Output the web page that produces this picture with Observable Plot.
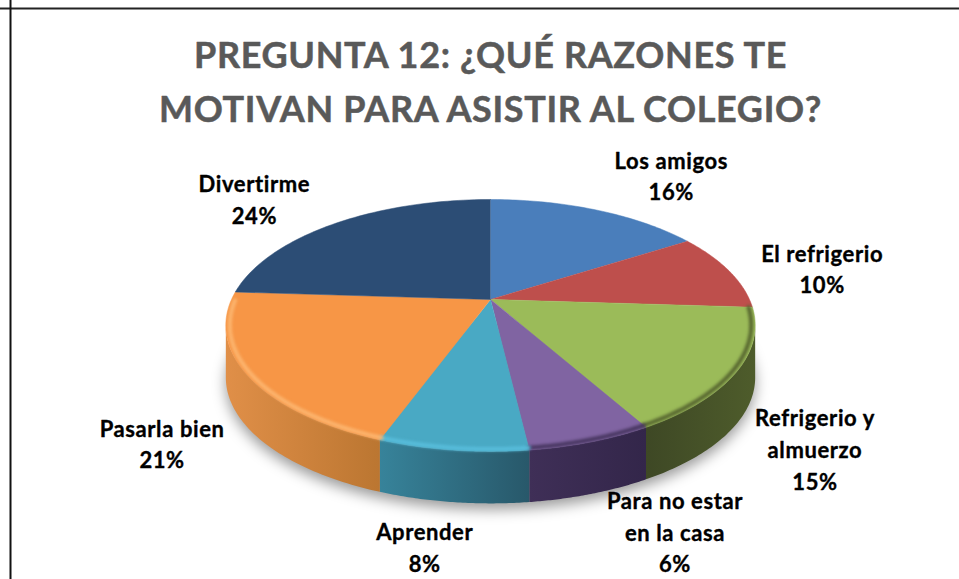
<!DOCTYPE html>
<html>
<head>
<meta charset="utf-8">
<script src="https://cdn.jsdelivr.net/npm/d3@7"></script>
<script src="https://cdn.jsdelivr.net/npm/@observablehq/plot@0.6"></script>
<style>html,body{margin:0;padding:0;background:#fff}svg{display:block}</style>
</head>
<body>
<div id="chart"></div>
<script>
const titleLines = ["PREGUNTA 12: ¿QUÉ RAZONES TE", "MOTIVAN PARA ASISTIR AL COLEGIO?"];
const categories = ["Los amigos", "El refrigerio", "Refrigerio y\nalmuerzo", "Para no estar\nen la casa", "Aprender", "Pasarla bien", "Divertirme"];
const percentLabels = ["16%", "10%", "15%", "6%", "8%", "21%", "24%"];
// slice shares as they measure on the drawn pie
const shares = [16, 10, 15.8, 6.3, 7.5, 20.4, 24];
const faceColors = ["#4a7ebb", "#be4f4c", "#9bbb59", "#8064a2", "#49a9c4", "#f79646", "#2c4d75"];
const rimColors = ["#4a7ebb", "#be4f4c", "#56652f", "#46355f", "#58bddb", "#fcb56f", "#2c4d75"];
const wallStops = [null, null, ["#3e4825", "#4e5c2b"], ["#3f2f57", "#33264a"], ["#37839a", "#28586a"], ["#e08f48", "#bb7631"], null];
const labelOffsets = [[75, -35.5], [93, -3.5], [78, 76.5], [84, 88.5], [-28, 95.5], [-84, 68.5], [-82, -25.5]];

// Pie geometry on the chart's x/y scales: perspective view of a circle
const cx = 490, cy = 299, k = 259, b = 120.6, a = 0.206, depth = 52;
const frontFrom = 102.4, frontTo = 257.6;
const rim = deg => {
  const t = deg * Math.PI / 180, u = Math.sin(t), v = Math.cos(t), w = 1 + a * v;
  return {x: cx + k * u / w, y: cy - b * v / w};
};
const arc = (d0, d1) => d3.range(0, 61).map(i => rim(d0 + (d1 - d0) * i / 60));
const spaced = amount => (index, scales, values, dims, ctx, next) => {
  const g = next(index, scales, values, dims, ctx);
  g.style.letterSpacing = amount;
  return g;
};

const cum = d3.cumsum(shares);
const total = cum[cum.length - 1];
const slices = categories.map((name, i) => ({
  name, i,
  d0: (i ? cum[i - 1] : 0) / total * 360,
  d1: cum[i] / total * 360,
  label: name + "\n" + percentLabels[i]
}));

const defs = () => {
  const d = d3.create("svg:defs");
  slices.forEach(s => {
    if (!wallStops[s.i]) return;
    const g = d.append("linearGradient").attr("id", "wall" + s.i);
    g.append("stop").attr("offset", "0").attr("stop-color", wallStops[s.i][0]);
    g.append("stop").attr("offset", "1").attr("stop-color", wallStops[s.i][1]);
  });
  return d.node();
};

const marks = [defs];

// soft ground shadow
marks.push(Plot.line(arc(frontFrom - 30, frontTo + 30).map(p => ({x: p.x, y: p.y + depth + 6})), {
  x: "x", y: "y", fill: "#000", fillOpacity: 0.4, stroke: "none", imageFilter: "blur(7px)"
}));

// walls
slices.forEach(s => {
  const d0 = Math.max(s.d0, frontFrom), d1 = Math.min(s.d1, frontTo);
  if (d1 <= d0 || !wallStops[s.i]) return;
  const top = arc(d0, d1);
  const bottom = top.map(p => ({x: p.x, y: p.y + depth})).reverse();
  marks.push(Plot.line([...top, ...bottom], {x: "x", y: "y", fill: `url(#wall${s.i})`, stroke: "none"}));
});

// top faces
slices.forEach(s => {
  marks.push(Plot.line([{x: cx, y: cy}, ...arc(s.d0, s.d1)], {
    x: "x", y: "y", fill: faceColors[s.i], stroke: faceColors[s.i], strokeWidth: 0.5
  }));
});

// soft rounded rim just inside the front edge
slices.forEach(s => {
  const d0 = Math.max(s.d0, frontFrom - 12), d1 = Math.min(s.d1, frontTo + 12);
  if (d1 <= d0 || !wallStops[s.i]) return;
  const inner = arc(d0, d1).map(p => ({x: cx + (p.x - cx) * 0.985, y: cy + (p.y - cy) * 0.985}));
  marks.push(Plot.line(inner, {
    x: "x", y: "y", stroke: rimColors[s.i], strokeWidth: 4, imageFilter: "blur(1.5px)"
  }));
});

// frame lines
marks.push(Plot.ruleY([8], {stroke: "#222", strokeWidth: 2}));
marks.push(Plot.ruleX([10], {stroke: "#111", strokeWidth: 2}));

// title
marks.push(Plot.text(titleLines, {
  x: () => 490, y: (d, i) => 56 + i * 54, text: d => d,
  fontFamily: "Lato", fontWeight: 700, fontSize: 36, fill: "#595959",
  stroke: "#595959", strokeWidth: 0.5, textAnchor: "middle", render: spaced("0.65px")
}));

// labels
marks.push(Plot.text(slices, {
  x: s => rim((s.d0 + s.d1) / 2).x + labelOffsets[s.i][0],
  y: s => rim((s.d0 + s.d1) / 2).y + labelOffsets[s.i][1],
  text: "label",
  fontFamily: "Lato", fontWeight: 700, fontSize: 22, fill: "#000",
  stroke: "#000", strokeWidth: 0.35, lineHeight: 1.44,
  textAnchor: "middle", render: spaced("0.6px")
}));

const plot = Plot.plot({
  width: 959, height: 579,
  margin: 0,
  x: {domain: [0, 959], range: [0, 959], axis: null},
  y: {domain: [0, 579], range: [0, 579], axis: null},
  marks
});
document.getElementById("chart").append(plot);
</script>
</body>
</html>
